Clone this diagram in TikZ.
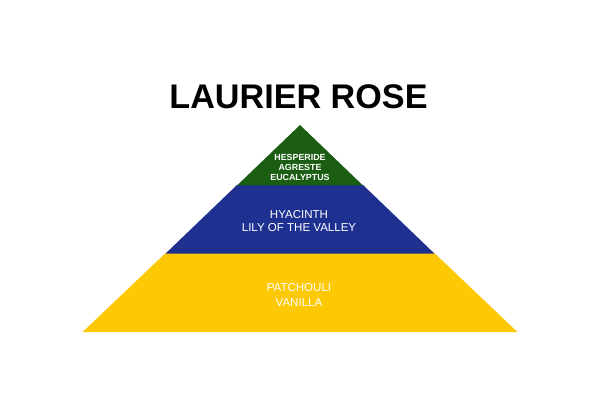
\documentclass[tikz,border=0pt]{standalone}
\usepackage{fontspec}
\setmainfont{Liberation Sans}
\usepackage{xcolor}
\definecolor{topgreen}{HTML}{1B5E13}
\definecolor{heartblue}{HTML}{1E3190}
\definecolor{baseyellow}{HTML}{FDC905}

\begin{document}
\begin{tikzpicture}[
  x=0.025cm, y=-0.025cm,
  tier/.style={draw=none},
  tiertext/.style={text=white, align=center, inner sep=0pt},
  titletext/.style={font=\fontsize{24.3}{27}\selectfont\bfseries, inner sep=0pt}
]
  \useasboundingbox (0,0) rectangle (600,420);
  % pyramid tiers
  \fill [tier, baseyellow] (165.6,253) -- (434.4,253) -- (517.4,332) -- (82.6,332) -- cycle;
  \fill [tier, heartblue] (237,185) -- (363,185) -- (434.4,253.5) -- (165.6,253.5) -- cycle;
  \fill [tier, topgreen] (300,125) -- (363,185.5) -- (237,185.5) -- cycle;
  % texts
  \node [titletext] (title) at (298.5,96.5) {LAURIER ROSE};
  \node [tiertext, font=\fontsize{6.3}{7.1}\selectfont\bfseries] (top) at (300,167) {HESPERIDE\\AGRESTE\\EUCALYPTUS};
  \node [tiertext, font=\fontsize{8.2}{9.2}\selectfont] (heart) at (299,221) {HYACINTH\\LILY OF THE VALLEY};
  \node [tiertext, font=\fontsize{8.2}{10.7}\selectfont] (base) at (299,295) {PATCHOULI\\VANILLA};
\end{tikzpicture}
\end{document}
